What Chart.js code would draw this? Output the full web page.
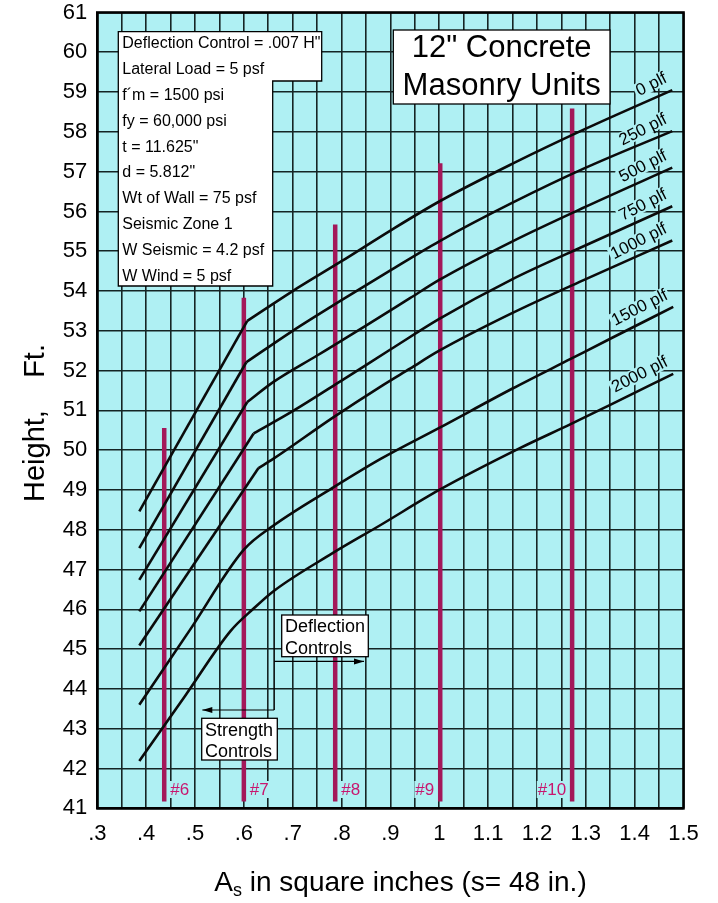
<!DOCTYPE html>
<html><head><meta charset="utf-8">
<script src="https://cdn.jsdelivr.net/npm/chart.js@4.4.1/dist/chart.umd.min.js"></script>
<style>html,body{margin:0;padding:0;background:#fff;}#wrap{width:718px;height:903px;position:relative;}</style>
</head><body><div id="wrap"><canvas id="c" width="718" height="903"></canvas></div>
<script>
// ---------- data ----------
const xTickLabels = ['.3','.4','.5','.6','.7','.8','.9','1','1.1','1.2','1.3','1.4','1.5'];
const yTickLabels = ['41','42','43','44','45','46','47','48','49','50','51','52','53','54','55','56','57','58','59','60','61'];
const loadLabels = ['0 plf','250 plf','500 plf','750 plf','1000 plf','1500 plf','2000 plf'];
// [As (sq in), Height (ft)]
const load0    = [[.386,48.46],[.607,53.25],[.70,54.0],[.80,54.75],[.90,55.52],[1.0,56.25],[1.15,57.2],[1.3,58.08],[1.477,59.05]];
const load250  = [[.386,47.54],[.605,52.21],[.70,53.0],[.80,53.77],[.90,54.52],[1.0,55.25],[1.15,56.22],[1.3,57.1],[1.477,58.02]];
const load500  = [[.386,46.74],[.607,51.21],[.66,51.71],[.75,52.38],[.85,53.13],[.94,53.82],[1.0,54.28],[1.15,55.25],[1.3,56.12],[1.477,57.1]];
const load750  = [[.386,45.95],[.62,50.42],[.70,50.98],[.80,51.75],[.90,52.53],[1.0,53.3],[1.15,54.3],[1.3,55.15],[1.477,56.13]];
const load1000 = [[.386,45.09],[.63,49.55],[.66,49.78],[.78,50.8],[.88,51.6],[.94,52.05],[1.0,52.5],[1.15,53.45],[1.3,54.3],[1.477,55.27]];
const load1500 = [[.386,43.6],[.49,45.49],[.60,47.5],[.66,48.1],[.78,49.04],[.88,49.78],[1.0,50.56],[1.15,51.55],[1.27,52.3],[1.35,52.8],[1.479,53.6]];
const load2000 = [[.386,42.19],[.48,43.83],[.573,45.46],[.62,46.02],[.66,46.45],[.78,47.4],[.88,48.12],[1.0,49.0],[1.165,50.05],[1.27,50.66],[1.35,51.14],[1.479,51.92]];
const sharpKink = [1,1,1,1,1,0,0]; // index of the point where the straight strength segment ends (0 = smooth)
const barSizes = ['#6','#7','#8','#9','#10'];
const barArea  = [.437,.60,.787,1.002,1.272];
const barTop   = [50.56,53.83,55.67,57.21,58.59];
const barBase  = 41.17;
const paramLines = ['Deflection Control = .007 H"','Lateral Load = 5 psf','f\u00b4m = 1500 psi','fy = 60,000 psi','t = 11.625"','d = 5.812"','Wt of Wall = 75 psf','Seismic Zone 1','W Seismic = 4.2 psf','W Wind = 5 psf'];
const titleLines = ['12" Concrete','Masonry Units'];
const deflLines = ['Deflection','Controls'];
const strLines = ['Strength','Controls'];
const controlLine = {x:.662, yTop:53.67, yBot:43.47, deflY:44.69, deflX:.846, strY:43.47, strX:.515};

// ---------- styles / layout ----------
const FONT = '"Liberation Sans", Arial, Helvetica, sans-serif';
const CYAN = '#aff0f3';
const GRID = '#152424';
const BAR = '#a3185a';
const BARTXT = '#c8166e';
const AREA = {left:97.3, top:12.5, right:683.5, bottom:808.3};
const ANN = {
  paramBox: [[118.3,31.7],[321.7,31.7],[321.7,81],[272.7,81],[272.7,286],[118.3,286]],
  paramX:122.3, paramY0:48.3, paramDy:25.8, paramSize:16,
  titleBox:[393.3,30,610,104], titleBase:[57.3,95], titleSize:31,
  deflBox:[281.7,615,368.3,656.7], deflX:285, deflBase:[631.7,654],
  strBox:[201.7,718.3,277.3,760], strX:205, strBase:[735.7,757.3],
  boxFont:18,
  lblU:0, lblV:-9.5, lblAng:-27, lblSize:17,
  barLblGap:6, barLblBase:795, barLblSize:17
};

function pts(a){return a.map(p=>({x:p[0],y:p[1]}));}
const curves = [load0,load250,load500,load750,load1000,load1500,load2000];
const datasets = [];
const lineStyle = {borderColor:'#0b0b0b',borderWidth:2.6,pointRadius:0,fill:false,order:0,borderJoinStyle:'round'};
curves.forEach((c,i)=>{
  const k = sharpKink[i];
  if (k>0){
    datasets.push(Object.assign({label:loadLabels[i],data:pts(c.slice(0,k+1)),tension:0},lineStyle));
    datasets.push(Object.assign({label:loadLabels[i]+' (deflection)',data:pts(c.slice(k)),cubicInterpolationMode:'monotone'},lineStyle));
  } else {
    datasets.push(Object.assign({label:loadLabels[i],data:pts(c),cubicInterpolationMode:'monotone'},lineStyle));
  }
});
barArea.forEach((a,i)=>datasets.push({label:barSizes[i],data:[{x:a,y:barBase},{x:a,y:barTop[i]}],borderColor:BAR,borderWidth:4.5,pointRadius:0,borderCapStyle:'butt',fill:false,order:1}));

function boxRect(ctx,r){ctx.fillStyle='#fff';ctx.fillRect(r[0],r[1],r[2]-r[0],r[3]-r[1]);ctx.strokeStyle='#000';ctx.lineWidth=1.3;ctx.strokeRect(r[0],r[1],r[2]-r[0],r[3]-r[1]);}
function arrow(ctx,x1,y,x2){
  ctx.beginPath();ctx.moveTo(x1,y);ctx.lineTo(x2,y);ctx.stroke();
  const d = x2>x1?1:-1;
  ctx.beginPath();ctx.moveTo(x2,y);ctx.lineTo(x2-d*10,y-3);ctx.lineTo(x2-d*10,y+3);ctx.closePath();ctx.fill();
}

const deco = {
  id:'deco',
  beforeDraw(chart){
    const {ctx,chartArea:a}=chart;
    ctx.save();ctx.fillStyle='#fff';ctx.fillRect(0,0,chart.width,chart.height);
    ctx.fillStyle=CYAN;ctx.fillRect(a.left,a.top,a.right-a.left,a.bottom-a.top);ctx.restore();
  },
  afterDatasetsDraw(chart){
    const {ctx,chartArea:a,scales:{x:xs,y:ys}}=chart;
    ctx.save();
    ctx.strokeStyle='#000';ctx.lineWidth=2.6;ctx.strokeRect(a.left,a.top,a.right-a.left,a.bottom-a.top);
    const cx=xs.getPixelForValue(controlLine.x);
    ctx.lineWidth=1.5;ctx.strokeStyle='#000';ctx.fillStyle='#000';
    ctx.beginPath();ctx.moveTo(cx,ys.getPixelForValue(controlLine.yTop));ctx.lineTo(cx,ys.getPixelForValue(controlLine.yBot));ctx.stroke();
    ctx.lineWidth=1.2;
    arrow(ctx,cx,ys.getPixelForValue(controlLine.deflY),xs.getPixelForValue(controlLine.deflX));
    arrow(ctx,cx,ys.getPixelForValue(controlLine.strY),xs.getPixelForValue(controlLine.strX));
    ctx.font=ANN.barLblSize+'px '+FONT;ctx.textBaseline='alphabetic';
    barArea.forEach((v,i)=>{
      const px=xs.getPixelForValue(v);const t=barSizes[i];const w=ctx.measureText(t).width;
      const right = i>=3;
      const x0 = right ? px-ANN.barLblGap-w : px+ANN.barLblGap;
      ctx.fillStyle=CYAN;ctx.fillRect(x0-1,ANN.barLblBase-14,w+2,17);
      ctx.fillStyle=BARTXT;ctx.textAlign='left';ctx.fillText(t,x0,ANN.barLblBase);
    });
    ctx.font=ANN.lblSize+'px '+FONT;
    curves.forEach((c,i)=>{
      const e=c[c.length-1];
      const px=xs.getPixelForValue(e[0]),py=ys.getPixelForValue(e[1]);
      ctx.save();ctx.translate(px,py);ctx.rotate(ANN.lblAng*Math.PI/180);
      const w=ctx.measureText(loadLabels[i]).width;
      ctx.fillStyle=CYAN;ctx.fillRect(ANN.lblU-w-2,ANN.lblV-13,w+4,15);
      ctx.fillStyle='#000';ctx.textAlign='right';ctx.textBaseline='alphabetic';
      ctx.fillText(loadLabels[i],ANN.lblU,ANN.lblV);
      ctx.restore();
    });
    ctx.beginPath();ANN.paramBox.forEach((p,i)=>i?ctx.lineTo(p[0],p[1]):ctx.moveTo(p[0],p[1]));ctx.closePath();
    ctx.fillStyle='#fff';ctx.fill();ctx.strokeStyle='#000';ctx.lineWidth=1.3;ctx.stroke();
    ctx.fillStyle='#000';ctx.textAlign='left';ctx.textBaseline='alphabetic';ctx.font=ANN.paramSize+'px '+FONT;
    paramLines.forEach((t,i)=>ctx.fillText(t,ANN.paramX,ANN.paramY0+i*ANN.paramDy));
    boxRect(ctx,ANN.titleBox);
    ctx.fillStyle='#000';ctx.font=ANN.titleSize+'px '+FONT;ctx.textAlign='center';
    const tcx=(ANN.titleBox[0]+ANN.titleBox[2])/2;
    titleLines.forEach((t,i)=>ctx.fillText(t,tcx,ANN.titleBase[i]));
    ctx.textAlign='left';
    boxRect(ctx,ANN.deflBox);ctx.fillStyle='#000';ctx.font=ANN.boxFont+'px '+FONT;
    deflLines.forEach((t,i)=>ctx.fillText(t,ANN.deflX,ANN.deflBase[i]));
    boxRect(ctx,ANN.strBox);ctx.fillStyle='#000';ctx.font=ANN.boxFont+'px '+FONT;
    strLines.forEach((t,i)=>ctx.fillText(t,ANN.strX,ANN.strBase[i]));
    ctx.restore();
  },
  afterDraw(chart){
    const {ctx}=chart;
    ctx.save();ctx.fillStyle='#000';ctx.textBaseline='alphabetic';
    const big='28px '+FONT, small='18px '+FONT;
    const rest=' in square inches (s= 48 in.)';
    ctx.font=big;const wA=ctx.measureText('A').width, wR=ctx.measureText(rest).width;
    ctx.font=small;const wS=ctx.measureText('s').width;
    let x=400.5-(wA+wS+wR)/2;const base=891;
    ctx.textAlign='left';
    ctx.font=big;ctx.fillText('A',x,base);x+=wA;
    ctx.font=small;ctx.fillText('s',x,base+5);x+=wS;
    ctx.font=big;ctx.fillText(rest,x,base);
    ctx.translate(44,423);ctx.rotate(-Math.PI/2);ctx.textAlign='center';ctx.font='29px '+FONT;
    ctx.fillText('Height,    Ft.',0,0);
    ctx.restore();
  }
};

const xGrid=[];for(let k=6;k<=30;k++)xGrid.push(k/20);
function noPad(s){s.paddingTop=0;s.paddingBottom=0;s.paddingLeft=0;s.paddingRight=0;}

new Chart(document.getElementById('c'),{
  type:'line',
  data:{datasets},
  options:{
    responsive:false,animation:false,devicePixelRatio:1,
    layout:{padding:{left:0,top:AREA.top,right:718-AREA.right,bottom:0}},
    plugins:{legend:{display:false},tooltip:{enabled:false}},
    scales:{
      x:{type:'linear',min:.3,max:1.5,
        afterBuildTicks:s=>{s.ticks=xGrid.map(v=>({value:v}));},
        afterFit:s=>{s.height=903-AREA.bottom;noPad(s);},
        ticks:{autoSkip:false,maxRotation:0,padding:15,color:'#000',font:{family:FONT,size:22,lineHeight:1},
          callback:v=>{const k=Math.round(v*20);return k%2?'':xTickLabels[(k-6)/2];}},
        grid:{color:GRID,lineWidth:1.6,drawTicks:false},border:{display:false}},
      y:{type:'linear',min:41,max:61,
        afterBuildTicks:s=>{s.ticks=yTickLabels.map(t=>({value:Number(t)}));},
        afterFit:s=>{s.width=AREA.left;noPad(s);},
        ticks:{autoSkip:false,padding:10,color:'#000',font:{family:FONT,size:22,lineHeight:1},
          callback:(v,i)=>yTickLabels[i]},
        grid:{color:GRID,lineWidth:1.6,drawTicks:false},border:{display:false}}
    }
  },
  plugins:[deco]
});
</script></body></html>
